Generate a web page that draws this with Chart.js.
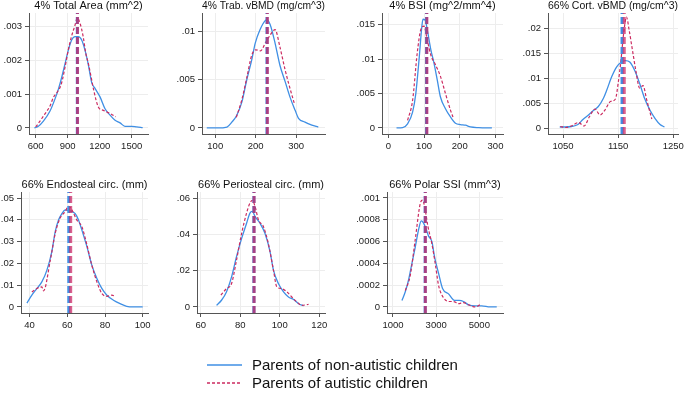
<!DOCTYPE html>
<html><head><meta charset="utf-8">
<script src="https://cdn.jsdelivr.net/npm/chart.js@4/dist/chart.umd.min.js"></script>
<style>
html,body{margin:0;padding:0;background:#fff}
body{width:685px;height:393px;overflow:hidden;position:relative;font-family:"Liberation Sans",Arial,sans-serif}
.pw{position:absolute}
.lg{position:absolute;left:207px;font-size:15px;line-height:18px;color:#111;white-space:nowrap}
.lg svg{position:absolute;left:0;top:0}
.lg span{position:absolute;left:45px;top:0}
</style></head><body>
<script>
// ---------- data ----------
// 4% Total Area (mm^2)
const areaTicksX = [600, 900, 1200, 1500];
const areaTicksY = [0, 0.001, 0.002, 0.003];
const areaTickLabelsY = ["0", ".001", ".002", ".003"];
const areaNonX = [587,625,672,734,781,812,844,875,906,937,969,1000,1031,1062,1094,1125,1156,1203,1250,1297,1344,1391,1437,1500,1547,1603];
const areaNonY = [0,.00005,.0002,.0005,.00086,.00114,.0015,.0019,.0023,.0026,.0027,.0027,.0026,.0023,.00186,.00134,.00117,.00092,.00057,.00038,.00023,.00015,.00005,.00005,.00003,.00001];
const areaAutX = [600,640,672,705,734,765,800,840,875,905,935,965,990,1015,1045,1070,1094,1120,1145,1187,1234,1297,1350];
const areaAutY = [.00003,.0002,.00035,.0005,.00065,.0009,.00105,.0013,.0018,.0023,.0027,.003,.00325,.0031,.0027,.0022,.0019,.0015,.0011,.00062,.00052,.00043,.00033];
const areaMeans = [990, 992];

// 4% Trab. vBMD (mg/cm^3)
const trabTicksX = [100, 200, 300];
const trabTicksY = [0, 0.005, 0.01];
const trabTickLabelsY = ["0", ".005", ".01"];
const trabNonX = [79,105,129,141,153,166,178,190,199,211,223,228,236,248,260,273,285,298,306,322,339,355];
const trabNonY = [0,0,.0001,.0006,.0013,.0027,.005,.007,.0088,.0102,.0111,.0112,.0107,.0088,.0065,.0048,.0032,.0018,.001,.0006,.0003,.0001];
const trabAutX = [152,165,178,190,200,212,225,237,248,260,273,285,296];
const trabAutY = [.0011,.0028,.0052,.0075,.0081,.008,.0089,.0097,.0102,.0084,.006,.0041,.0025];
const trabMeans = [228, 229];

// 4% BSI (mg^2/mm^4)
const bsiTicksX = [0, 100, 200, 300];
const bsiTicksY = [0, 0.005, 0.01, 0.015];
const bsiTickLabelsY = ["0", ".005", ".01", ".015"];
const bsiNonX = [23,40,54,68,77,86,94,97,103,109,119,128,137,146,160,174,188,202,216,230,253,290];
const bsiNonY = [0,.00005,.0006,.0023,.005,.0099,.0148,.0158,.0157,.0143,.0114,.0094,.007,.0045,.0028,.0016,.0007,.0005,.0004,.00015,.00005,0];
const bsiAutX = [54,68,81,91,100,109,119,132,146,160,174,181];
const bsiAutY = [.0011,.004,.0109,.0143,.0148,.0128,.0106,.0092,.0075,.005,.0026,.0016];
const bsiMeans = [107, 108];

// 66% Cort. vBMD (mg/cm^3)
const cortTicksX = [1050, 1150, 1250];
const cortTicksY = [0, 0.005, 0.01, 0.015, 0.02];
const cortTickLabelsY = ["0", ".005", ".01", ".015", ".02"];
const cortNonX = [1044,1053,1065,1077,1086,1095,1105,1114,1123,1129,1138,1147,1156,1163,1171,1180,1189,1198,1208,1217,1226,1234];
const cortNonY = [.0002,.0002,.0003,.0007,.0017,.0025,.0035,.0043,.0059,.0075,.0102,.0122,.0132,.0135,.0132,.0115,.0089,.0059,.0035,.0019,.0007,.0002];
const cortAutX = [1045,1055,1065,1078,1088,1098,1108,1117,1126,1136,1145,1150,1155,1160,1165,1170,1176,1182,1189,1195,1202,1211];
const cortAutY = [.0003,.0001,.0004,.0011,.0004,.0023,.0038,.0026,.0036,.0053,.0058,.009,.0135,.019,.0222,.0195,.0155,.0115,.008,.0085,.0055,.0018];
const cortMeans = [1157, 1161];

// 66% Endosteal circ. (mm)
const endoTicksX = [40, 60, 80, 100];
const endoTicksY = [0, 0.01, 0.02, 0.03, 0.04, 0.05];
const endoTickLabelsY = ["0", ".01", ".02", ".03", ".04", ".05"];
const endoNonX = [38.6,41.2,43.9,46.5,49.2,51.8,53.6,55.4,57.1,58.9,60.6,62.4,64.2,65.9,67.7,70.4,73,75.7,78.3,81,84.5,88,91.5,95,100];
const endoNonY = [.0018,.0054,.0085,.0115,.0169,.0254,.0346,.04,.0428,.0446,.0443,.0438,.0428,.04,.0354,.0277,.0192,.0131,.0085,.0054,.0031,.0015,.0003,0,0];
const endoAutX = [41.2,43.9,46.5,47.4,51,53.6,56.2,58.9,60.6,62.4,65,67.7,70.4,73,75.7,78.3,81,83.6,85.4];
const endoAutY = [.0069,.0085,.0092,.0074,.0215,.0338,.0408,.0438,.0462,.0446,.04,.0369,.0285,.0192,.0115,.0062,.0049,.0054,.0049];
const endoMeans = [60.8, 61.8];

// 66% Periosteal circ. (mm)
const periTicksX = [60, 80, 100, 120];
const periTicksY = [0, 0.02, 0.04, 0.06];
const periTickLabelsY = ["0", ".02", ".04", ".06"];
const periNonX = [68,70.5,73,75.6,78.1,80.7,83.2,84.9,86.1,87.5,90,92.5,95.1,96.8,99.3,101.9,104.4,107,109.5,112];
const periNonY = [.0009,.0037,.0083,.0166,.0277,.0378,.0461,.0517,.0526,.0498,.0461,.0406,.0304,.0203,.0129,.0083,.0055,.0041,.0018,.0006];
const periAutX = [70.2,73,75.6,78.1,80.7,83.2,84.9,86.1,87.5,89.2,91.7,94.2,96.8,98.5,101,103.6,106.1,108.6,111.2,114.6];
const periAutY = [.0065,.0101,.0129,.0258,.0406,.0517,.0572,.0587,.0553,.048,.0443,.035,.0203,.0111,.0101,.0083,.0055,.0028,.0009,.0015];
const periMeans = [86.9, 87.0];

// 66% Polar SSI (mm^3)
const ssiTicksX = [1000, 3000, 5000];
const ssiTicksY = [0, 0.0002, 0.0004, 0.0006, 0.0008, 0.001];
const ssiTickLabelsY = ["0", ".0002", ".0004", ".0006", ".0008", ".001"];
const ssiNonX = [1416,1570,1724,1878,2032,2186,2309,2417,2525,2648,2802,2925,3110,3295,3572,3849,4065,4265,4496,4804,5112,5497,5805];
const ssiNonY = [.00006,.00014,.00025,.0004,.00055,.00071,.00079,.00077,.00072,.00065,.0006,.00046,.00031,.00017,.00012,.00006,.00006,.00005,.00002,.00001,.00001,0,0];
const ssiAutX = [1570,1800,2032,2263,2371,2494,2617,2802,2956,3110,3264,3572,3803,4034,4265,4496,4804,5035];
const ssiAutY = [.00015,.00029,.00062,.00095,.00098,.00089,.00074,.00058,.0004,.0002,.00011,.00005,.00005,.00003,.00004,.00002,0,.00002];
const ssiMeans = [2490, 2500];

const seriesNames = ["Parents of non-autistic children", "Parents of autistic children"];

// ---------- styling / layout ----------
const BLUE = '#3f8fe4';
const RED = '#cc2b60';
const RED_MEAN = 'rgba(205,35,95,0.72)';
const FONT = '"Liberation Sans", Arial, Helvetica, sans-serif';
Chart.defaults.font.family = FONT;

const panels = [
  {title:"4% Total Area (mm^2)", area:[29,13,148,134], xr:[537,1653], yr:[-0.000178,0.003398],
   xt:areaTicksX, yt:areaTicksY, yl:areaTickLabelsY, nx:areaNonX, ny:areaNonY, ax:areaAutX, ay:areaAutY, m:areaMeans},
  {title:"4% Trab. vBMD (mg/cm^3)", area:[202,13,325,134], xr:[67.2,371.6], yr:[-0.000625,0.01192],
   xt:trabTicksX, yt:trabTicksY, yl:trabTickLabelsY, nx:trabNonX, ny:trabNonY, ax:trabAutX, ay:trabAutY, m:trabMeans},
  {title:"4% BSI (mg^2/mm^4)", area:[382,13,503,134], xr:[-17.6,321], yr:[-0.000876,0.01671],
   xt:bsiTicksX, yt:bsiTicksY, yl:bsiTickLabelsY, nx:bsiNonX, ny:bsiNonY, ax:bsiAutX, ay:bsiAutY, m:bsiMeans},
  {title:"66% Cort. vBMD (mg/cm^3)", area:[548,13,678,134], xr:[1022.7,1258.5], yr:[-0.0012,0.02302],
   xt:cortTicksX, yt:cortTicksY, yl:cortTickLabelsY, nx:cortNonX, ny:cortNonY, ax:cortAutX, ay:cortAutY, m:cortMeans},
  {title:"66% Endosteal circ. (mm)", area:[21,192,148,313], xr:[35.45,102.8], yr:[-0.00277,0.05277],
   xt:endoTicksX, yt:endoTicksY, yl:endoTickLabelsY, nx:endoNonX, ny:endoNonY, ax:endoAutX, ay:endoAutY, m:endoMeans},
  {title:"66% Periosteal circ. (mm)", area:[197,192,325,313], xr:[58.1,122.9], yr:[-0.00332,0.06332],
   xt:periTicksX, yt:periTicksY, yl:periTickLabelsY, nx:periNonX, ny:periNonY, ax:periAutX, ay:periAutY, m:periMeans},
  {title:"66% Polar SSI (mm^3)", area:[387,192,503,313], xr:[723,6095], yr:[-0.0000553,0.001055],
   xt:ssiTicksX, yt:ssiTicksY, yl:ssiTickLabelsY, nx:ssiNonX, ny:ssiNonY, ax:ssiAutX, ay:ssiAutY, m:ssiMeans}
];

const PADL = 40, PADT = 26, PADR = 12, PADB = 28;
const zip = (xs, ys) => xs.map((x, i) => ({x, y: ys[i]}));

panels.forEach(p => {
  const [x0, y0, x1, y1] = p.area;
  const w = x1 - x0 + PADL + PADR, h = y1 - y0 + PADT + PADB;
  const wrap = document.createElement('div');
  wrap.className = 'pw';
  wrap.style.left = (x0 - PADL) + 'px';
  wrap.style.top = (y0 - PADT) + 'px';
  wrap.style.width = w + 'px';
  wrap.style.height = h + 'px';
  const c = document.createElement('canvas');
  c.width = w; c.height = h;
  c.style.width = w + 'px'; c.style.height = h + 'px';
  wrap.appendChild(c);
  document.body.appendChild(wrap);

  const vline = (xv) => [{x: xv, y: p.yr[0]}, {x: xv, y: p.yr[1]}];
  const tickFont = {size: 9.5, family: FONT};
  new Chart(c, {
    type: 'line',
    data: {datasets: [
      {label: seriesNames[1] + ' mean', data: vline(p.m[1]), borderColor: RED_MEAN, borderWidth: 3, borderDash: [7, 3], pointRadius: 0},
      {label: seriesNames[0] + ' mean', data: vline(p.m[0]), borderColor: BLUE, borderWidth: 3, borderDash: [7, 3], pointRadius: 0},
      {label: seriesNames[1], data: zip(p.ax, p.ay), borderColor: RED, borderWidth: 1.2, borderDash: [3, 2], pointRadius: 0, cubicInterpolationMode: 'monotone'},
      {label: seriesNames[0], data: zip(p.nx, p.ny), borderColor: BLUE, borderWidth: 1.3, pointRadius: 0, cubicInterpolationMode: 'monotone'}
    ]},
    options: {
      responsive: false, animation: false, devicePixelRatio: 1,
      layout: {padding: {left: 0, right: PADR, top: 0, bottom: 0}},
      plugins: {
        legend: {display: false}, tooltip: {enabled: false},
        title: {display: true, text: p.title, fullSize: false, color: '#111',
                font: {size: 11, family: FONT, weight: 'normal'}, padding: {top: 11.9, bottom: 0.9}}
      },
      scales: {
        x: {type: 'linear', min: p.xr[0], max: p.xr[1],
            afterBuildTicks: s => { s.ticks = p.xt.map(v => ({value: v})); },
            afterFit: s => { s.height = PADB; },
            ticks: {callback: (v, i) => String(p.xt[i]), font: tickFont, color: '#222', padding: 3, maxRotation: 0, autoSkip: false},
            grid: {color: '#ededed', tickColor: '#555', tickLength: 4, lineWidth: 1},
            border: {color: '#555', width: 1}},
        y: {type: 'linear', min: p.yr[0], max: p.yr[1],
            afterBuildTicks: s => { s.ticks = p.yt.map(v => ({value: v})); },
            afterFit: s => { s.width = PADL; },
            ticks: {callback: (v, i) => p.yl[i], font: tickFont, color: '#222', padding: 3, autoSkip: false},
            grid: {color: '#ededed', tickColor: '#555', tickLength: 4, lineWidth: 1},
            border: {color: '#555', width: 1}}
      }
    }
  });
});

// legend (HTML)
[[356, BLUE, ''], [374, RED, '3,2']].forEach((row, i) => {
  const d = document.createElement('div');
  d.className = 'lg';
  d.style.top = row[0] + 'px';
  d.innerHTML = '<svg width="36" height="18"><line x1="0" y1="9" x2="35" y2="9" stroke="' + row[1] + '" stroke-width="1.5"' +
    (row[2] ? ' stroke-dasharray="' + row[2] + '"' : '') + '/></svg><span>' + seriesNames[i] + '</span>';
  document.body.appendChild(d);
});
</script>
</body></html>
